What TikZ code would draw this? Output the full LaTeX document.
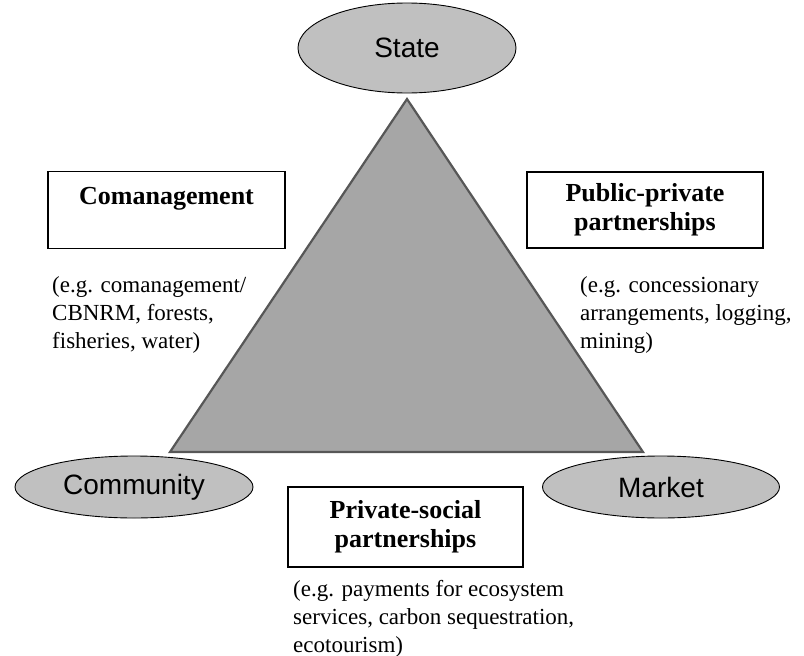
\documentclass[tikz,border=0pt]{standalone}
\usepackage{fontspec}
\setmainfont{Liberation Serif}
\setsansfont{Liberation Sans}
\usetikzlibrary{shapes,positioning,calc}
\definecolor{poleGray}{HTML}{C0C0C0}
\definecolor{triGray}{HTML}{A6A6A6}
\definecolor{triEdge}{HTML}{575757}

\begin{document}
\begin{tikzpicture}[x=1pt,y=-1pt,
	pole/.style={ellipse,draw=black,fill=poleGray,line width=0.9pt,inner sep=0pt,font=\sffamily\fontsize{28}{30}\selectfont},
	arrbox/.style={rectangle,draw=black,line width=1.1pt,fill=white,align=center,inner sep=0pt,font=\bfseries\fontsize{26}{29}\selectfont},
	example/.style={align=left,anchor=north west,inner sep=0pt,font=\fontsize{23}{28}\selectfont}]
		\def\xTop{407}
		\def\yTop{99}
		\def\xTriLeft{170}
		\def\xTriRight{643}
		\def\yTriBase{452}
		\def\yState{48}
		\def\yPole{487}
		\def\xCommunity{134}
		\def\xMarket{661}
		\def\yBoxTop{210}
		\def\yBoxBottom{527}
		\def\yExTop{276}
		\def\yExBottom{580}

\useasboundingbox (0,0) rectangle (804,656);

\draw[draw=triEdge,fill=triGray,line width=2.2pt,line join=miter] (\xTop,\yTop) -- (\xTriRight,\yTriBase) -- (\xTriLeft,\yTriBase) -- cycle;

\node[pole,minimum width=218pt,minimum height=90pt] (state) at (\xTop,\yState) {State};
\node[pole,minimum width=238pt,minimum height=62pt] (community) at (\xCommunity,\yPole) {Community};
\node[pole,minimum width=237pt,minimum height=62pt] (market) at (\xMarket,\yPole) {Market};

\node[arrbox,minimum width=237pt,minimum height=77pt] (coman) at (166.5,\yBoxTop) {Comanagement\\\mbox{}};
\node[arrbox,minimum width=236pt,minimum height=76pt] (pubpriv) at (645,\yBoxTop) {Public-private\\partnerships};
\node[arrbox,minimum width=235pt,minimum height=80pt] (privsoc) at (405.5,\yBoxBottom) {Private-social\\partnerships};

\node[example] (comanEx) at (52,\yExTop) {(e.g. comanagement/\\CBNRM, forests,\\fisheries, water)};
\node[example] (pubprivEx) at (580,\yExTop) {(e.g. concessionary\\arrangements, logging,\\mining)};
\node[example] (privsocEx) at (293,\yExBottom) {(e.g. payments for ecosystem\\services, carbon sequestration,\\ecotourism)};

\end{tikzpicture}
\end{document}
